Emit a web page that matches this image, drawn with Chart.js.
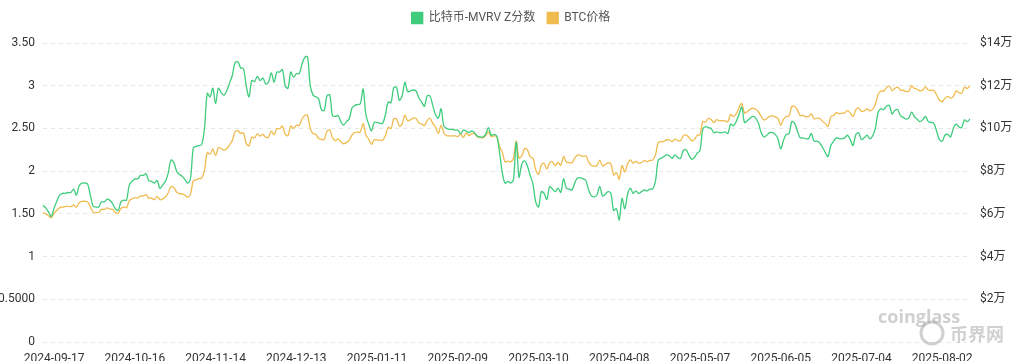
<!DOCTYPE html>
<html>
<head>
<meta charset="utf-8">
<script src="https://cdn.jsdelivr.net/npm/chart.js@4.4.1/dist/chart.umd.min.js"></script>
<style>
  html, body { margin: 0; padding: 0; background: #fff; }
  #wrap { width: 1022px; height: 361px; }
</style>
</head>
<body>
<div id="wrap"><canvas id="grafik" width="1022" height="361"></canvas></div>
<script>
// tanggal harian mulai 2024-09-13 (334 titik)
const tanggalMulai = '2024-09-13';
const jumlahHari = 334;

// BTC价格 (USD)
const hargaBTC = [
  60500, 60000, 59100, 58200, 60300, 61700, 62900, 63200, 63350, 63600,
  63300, 64250, 63150, 65200, 65800, 65900, 65600, 63300, 60800, 60600,
  60750, 62100, 62050, 62800, 62250, 62150, 60600, 60300, 62500, 63200,
  62850, 66050, 67050, 67600, 67350, 68400, 68350, 69000, 67350, 67400,
  66650, 68150, 66650, 67000, 67900, 69900, 72700, 72300, 70200, 69500,
  69350, 68750, 67800, 69350, 75600, 75900, 76550, 76700, 80400, 88700,
  87950, 90400, 87250, 91050, 90600, 89850, 90450, 92300, 94300, 98450,
  98950, 97700, 98000, 93000, 91900, 95950, 95650, 97450, 96450, 97200,
  95850, 96000, 98750, 97000, 99900, 99900, 101100, 97300, 96600, 101100,
  100000, 101450, 101400, 104300, 106050, 106150, 100050, 97500, 97300, 95300,
  94900, 94700, 98700, 99300, 95700, 94200, 95150, 93700, 92800, 93450,
  94450, 96900, 98100, 98250, 98350, 102250, 96950, 95050, 92500, 94700,
  94600, 94500, 94500, 96550, 100500, 99950, 104450, 104400, 101100, 102000,
  106150, 103650, 104000, 104850, 104700, 102600, 102100, 101300, 103700, 104750,
  102400, 100650, 97700, 101400, 97850, 96600, 96550, 96500, 96550, 96150,
  97450, 95750, 97850, 96600, 97500, 97550, 96150, 95750, 95550, 96550,
  98350, 96150, 96550, 96250, 91550, 88700, 84350, 84700, 84350, 86050,
  94250, 86100, 87250, 90600, 89950, 86750, 86150, 80600, 78550, 82850,
  83700, 81050, 83950, 84350, 82600, 84050, 82700, 86850, 84200, 84050,
  83850, 86050, 87500, 87400, 86900, 87200, 84350, 82650, 82350, 82550,
  85150, 82500, 83100, 83850, 83500, 78200, 79250, 76250, 82600, 79600,
  83400, 85300, 83750, 84600, 83650, 84050, 84900, 84450, 85050, 85150,
  87500, 93450, 93700, 93950, 94700, 94650, 93750, 95000, 94300, 94200,
  96500, 96900, 95900, 94300, 94750, 96850, 97000, 103250, 102950, 104650,
  104150, 102800, 104150, 103550, 103700, 103550, 103150, 106500, 105600, 106800,
  109650, 111700, 107300, 107800, 109000, 109450, 108950, 107800, 105600, 103950,
  104650, 105650, 105850, 105450, 104750, 101550, 104300, 105600, 105800, 110300,
  110250, 108650, 105950, 106100, 105450, 105550, 106800, 104550, 104850, 104650,
  103300, 102250, 100950, 105450, 106050, 107350, 106950, 107100, 107300, 108350,
  107150, 105700, 108850, 109600, 108000, 108200, 109200, 108250, 108950, 111300,
  115950, 117550, 117450, 119100, 119850, 117700, 118750, 119300, 117950, 117850,
  117300, 117400, 119950, 118750, 118350, 117650, 117950, 119450, 118000, 117850,
  117800, 115750, 113300, 112550, 114200, 115050, 114150, 115000, 117500, 116700,
  116500, 119300, 118700, 120150
];

// 比特币-MVRV Z分数
const zScore = [
  1.60, 1.57, 1.52, 1.47, 1.57, 1.65, 1.72, 1.74, 1.74, 1.75,
  1.75, 1.79, 1.72, 1.83, 1.86, 1.86, 1.85, 1.72, 1.59, 1.58,
  1.58, 1.64, 1.64, 1.67, 1.66, 1.62, 1.56, 1.54, 1.64, 1.66,
  1.66, 1.84, 1.88, 1.91, 1.91, 1.95, 1.95, 1.97, 1.89, 1.88,
  1.86, 1.89, 1.80, 1.84, 1.88, 1.98, 2.13, 2.10, 2.00, 1.96,
  1.94, 1.90, 1.86, 1.92, 2.27, 2.29, 2.30, 2.31, 2.50, 2.91,
  2.87, 2.97, 2.79, 2.97, 2.92, 2.89, 2.94, 3.03, 3.12, 3.27,
  3.28, 3.21, 3.20, 3.00, 2.87, 3.06, 3.05, 3.11, 3.06, 3.09,
  3.02, 3.04, 3.15, 3.04, 3.16, 3.16, 3.19, 3.00, 2.97, 3.16,
  3.10, 3.14, 3.14, 3.25, 3.33, 3.34, 3.00, 2.89, 2.87, 2.85,
  2.72, 2.71, 2.88, 2.89, 2.65, 2.64, 2.65, 2.58, 2.54, 2.58,
  2.61, 2.74, 2.77, 2.78, 2.79, 2.96, 2.66, 2.55, 2.47, 2.57,
  2.57, 2.56, 2.56, 2.66, 2.81, 2.80, 2.98, 2.98, 2.83, 2.88,
  3.04, 2.93, 2.94, 2.95, 2.94, 2.86, 2.81, 2.76, 2.88, 2.88,
  2.77, 2.66, 2.62, 2.73, 2.53, 2.50, 2.49, 2.49, 2.48, 2.48,
  2.44, 2.48, 2.47, 2.45, 2.47, 2.45, 2.41, 2.40, 2.40, 2.43,
  2.51, 2.42, 2.43, 2.41, 2.22, 1.98, 1.86, 1.88, 1.86, 1.90,
  2.34, 1.93, 2.08, 2.12, 2.06, 1.95, 1.85, 1.64, 1.58, 1.76,
  1.74, 1.67, 1.82, 1.79, 1.76, 1.80, 1.75, 1.91, 1.80, 1.79,
  1.78, 1.86, 1.92, 1.92, 1.91, 1.89, 1.78, 1.71, 1.70, 1.72,
  1.82, 1.71, 1.73, 1.76, 1.74, 1.54, 1.56, 1.43, 1.68, 1.56,
  1.73, 1.80, 1.74, 1.77, 1.74, 1.76, 1.78, 1.77, 1.79, 1.79,
  1.88, 2.13, 2.15, 2.17, 2.19, 2.18, 2.15, 2.19, 2.16, 2.15,
  2.24, 2.25, 2.19, 2.14, 2.16, 2.21, 2.24, 2.49, 2.52, 2.51,
  2.50, 2.45, 2.46, 2.45, 2.45, 2.46, 2.44, 2.55, 2.53, 2.58,
  2.66, 2.75, 2.57, 2.59, 2.62, 2.64, 2.62, 2.56, 2.45, 2.40,
  2.42, 2.45, 2.45, 2.43, 2.38, 2.26, 2.36, 2.43, 2.44, 2.58,
  2.56, 2.47, 2.39, 2.39, 2.38, 2.38, 2.44, 2.35, 2.35, 2.33,
  2.28, 2.22, 2.17, 2.30, 2.35, 2.39, 2.38, 2.38, 2.39, 2.42,
  2.37, 2.30, 2.43, 2.45, 2.37, 2.39, 2.42, 2.38, 2.41, 2.50,
  2.69, 2.73, 2.72, 2.76, 2.77, 2.67, 2.71, 2.72, 2.65, 2.63,
  2.61, 2.62, 2.69, 2.64, 2.61, 2.58, 2.60, 2.64, 2.58, 2.57,
  2.56, 2.47, 2.37, 2.35, 2.42, 2.43, 2.40, 2.50, 2.55, 2.52,
  2.51, 2.60, 2.58, 2.61
];

// label sumbu kiri, per 0.5
const labelZ = ['0', '0.5000', '1', '1.50', '2', '2.50', '3', '3.50'];

const tanggal = [];
const t0 = Date.parse(tanggalMulai + 'T00:00:00Z');
for (let i = 0; i < jumlahHari; i++) {
  tanggal.push(new Date(t0 + i * 86400000).toISOString().slice(0, 10));
}

const FONT = "Roboto, 'Noto Sans CJK SC', sans-serif";

// jarak ekstra di bawah legenda
const jarakLegenda = {
  id: 'jarakLegenda',
  beforeLayout(chart) {
    const lg = chart.legend;
    if (lg && !lg._dipatch) {
      const fitAsli = lg.fit;
      lg.fit = function () { fitAsli.call(this); this.height += 9; };
      lg._dipatch = true;
    }
  }
};

// watermark coinglass / 币界网
const watermark = {
  id: 'watermark',
  afterDraw(chart) {
    const c = chart.ctx;
    c.save();
    c.fillStyle = 'rgba(150,150,150,0.45)';
    c.font = "bold 18px 'Open Sans', sans-serif";
    c.textBaseline = 'middle';
    c.fillText('coinglass', 878, 318);
    c.strokeStyle = 'rgba(150,150,150,0.45)';
    c.lineWidth = 3;
    c.beginPath();
    c.arc(932, 333, 11, 0, Math.PI * 2);
    c.stroke();
    c.font = "bold 18px 'Noto Sans CJK SC', sans-serif";
    c.fillText('币界网', 950, 334);
    c.restore();
  }
};

const ctx = document.getElementById('grafik').getContext('2d');
window.grafik = new Chart(ctx, {
  type: 'line',
  data: {
    labels: tanggal,
    datasets: [
      { label: '比特币-MVRV Z分数', data: zScore, yAxisID: 'y',
        borderColor: '#3fcc7d', backgroundColor: '#3fcc7d', borderWidth: 1.3,
        pointRadius: 0, tension: 0.35 },
      { label: 'BTC价格', data: hargaBTC, yAxisID: 'y1',
        borderColor: '#f0bb4f', backgroundColor: '#f0bb4f', borderWidth: 1.3,
        pointRadius: 0, tension: 0.35 }
    ]
  },
  options: {
    responsive: false,
    animation: false,
    layout: { padding: { top: 0, left: 0, right: 0, bottom: 0 } },
    plugins: {
      legend: {
        position: 'top',
        labels: { boxWidth: 11, boxHeight: 11, padding: 12, color: '#555',
                  font: { family: FONT, size: 12 } }
      },
      tooltip: { enabled: false }
    },
    scales: {
      x: {
        grid: { display: false },
        border: { display: false },
        ticks: {
          autoSkip: false, maxRotation: 0, minRotation: 0, padding: 2,
          color: '#333', font: { family: FONT, size: 12 },
          callback: (v, i) => (i % 29 === 4 ? tanggal[i] : null)
        },
        afterFit: s => { s.height = 19; }
      },
      y: {
        position: 'left', min: 0, max: 3.5,
        grid: { color: '#e8e8e8', drawTicks: false },
        border: { display: false, dash: [4, 4] },
        ticks: {
          stepSize: 0.5, padding: 8, color: '#333', font: { family: FONT, size: 12 },
          callback: v => labelZ[Math.round(v / 0.5)]
        },
        afterFit: s => { s.width = 43; }
      },
      y1: {
        position: 'right', min: 0, max: 140000,
        grid: { display: false, drawTicks: false },
        border: { display: false },
        ticks: {
          stepSize: 20000, padding: 10, color: '#333', font: { family: FONT, size: 12 },
          callback: v => (v === 0 ? '' : '$' + v / 10000 + '万')
        },
        afterFit: s => { s.width = 52; }
      }
    }
  },
  plugins: [jarakLegenda, watermark]
});
</script>
</body>
</html>
